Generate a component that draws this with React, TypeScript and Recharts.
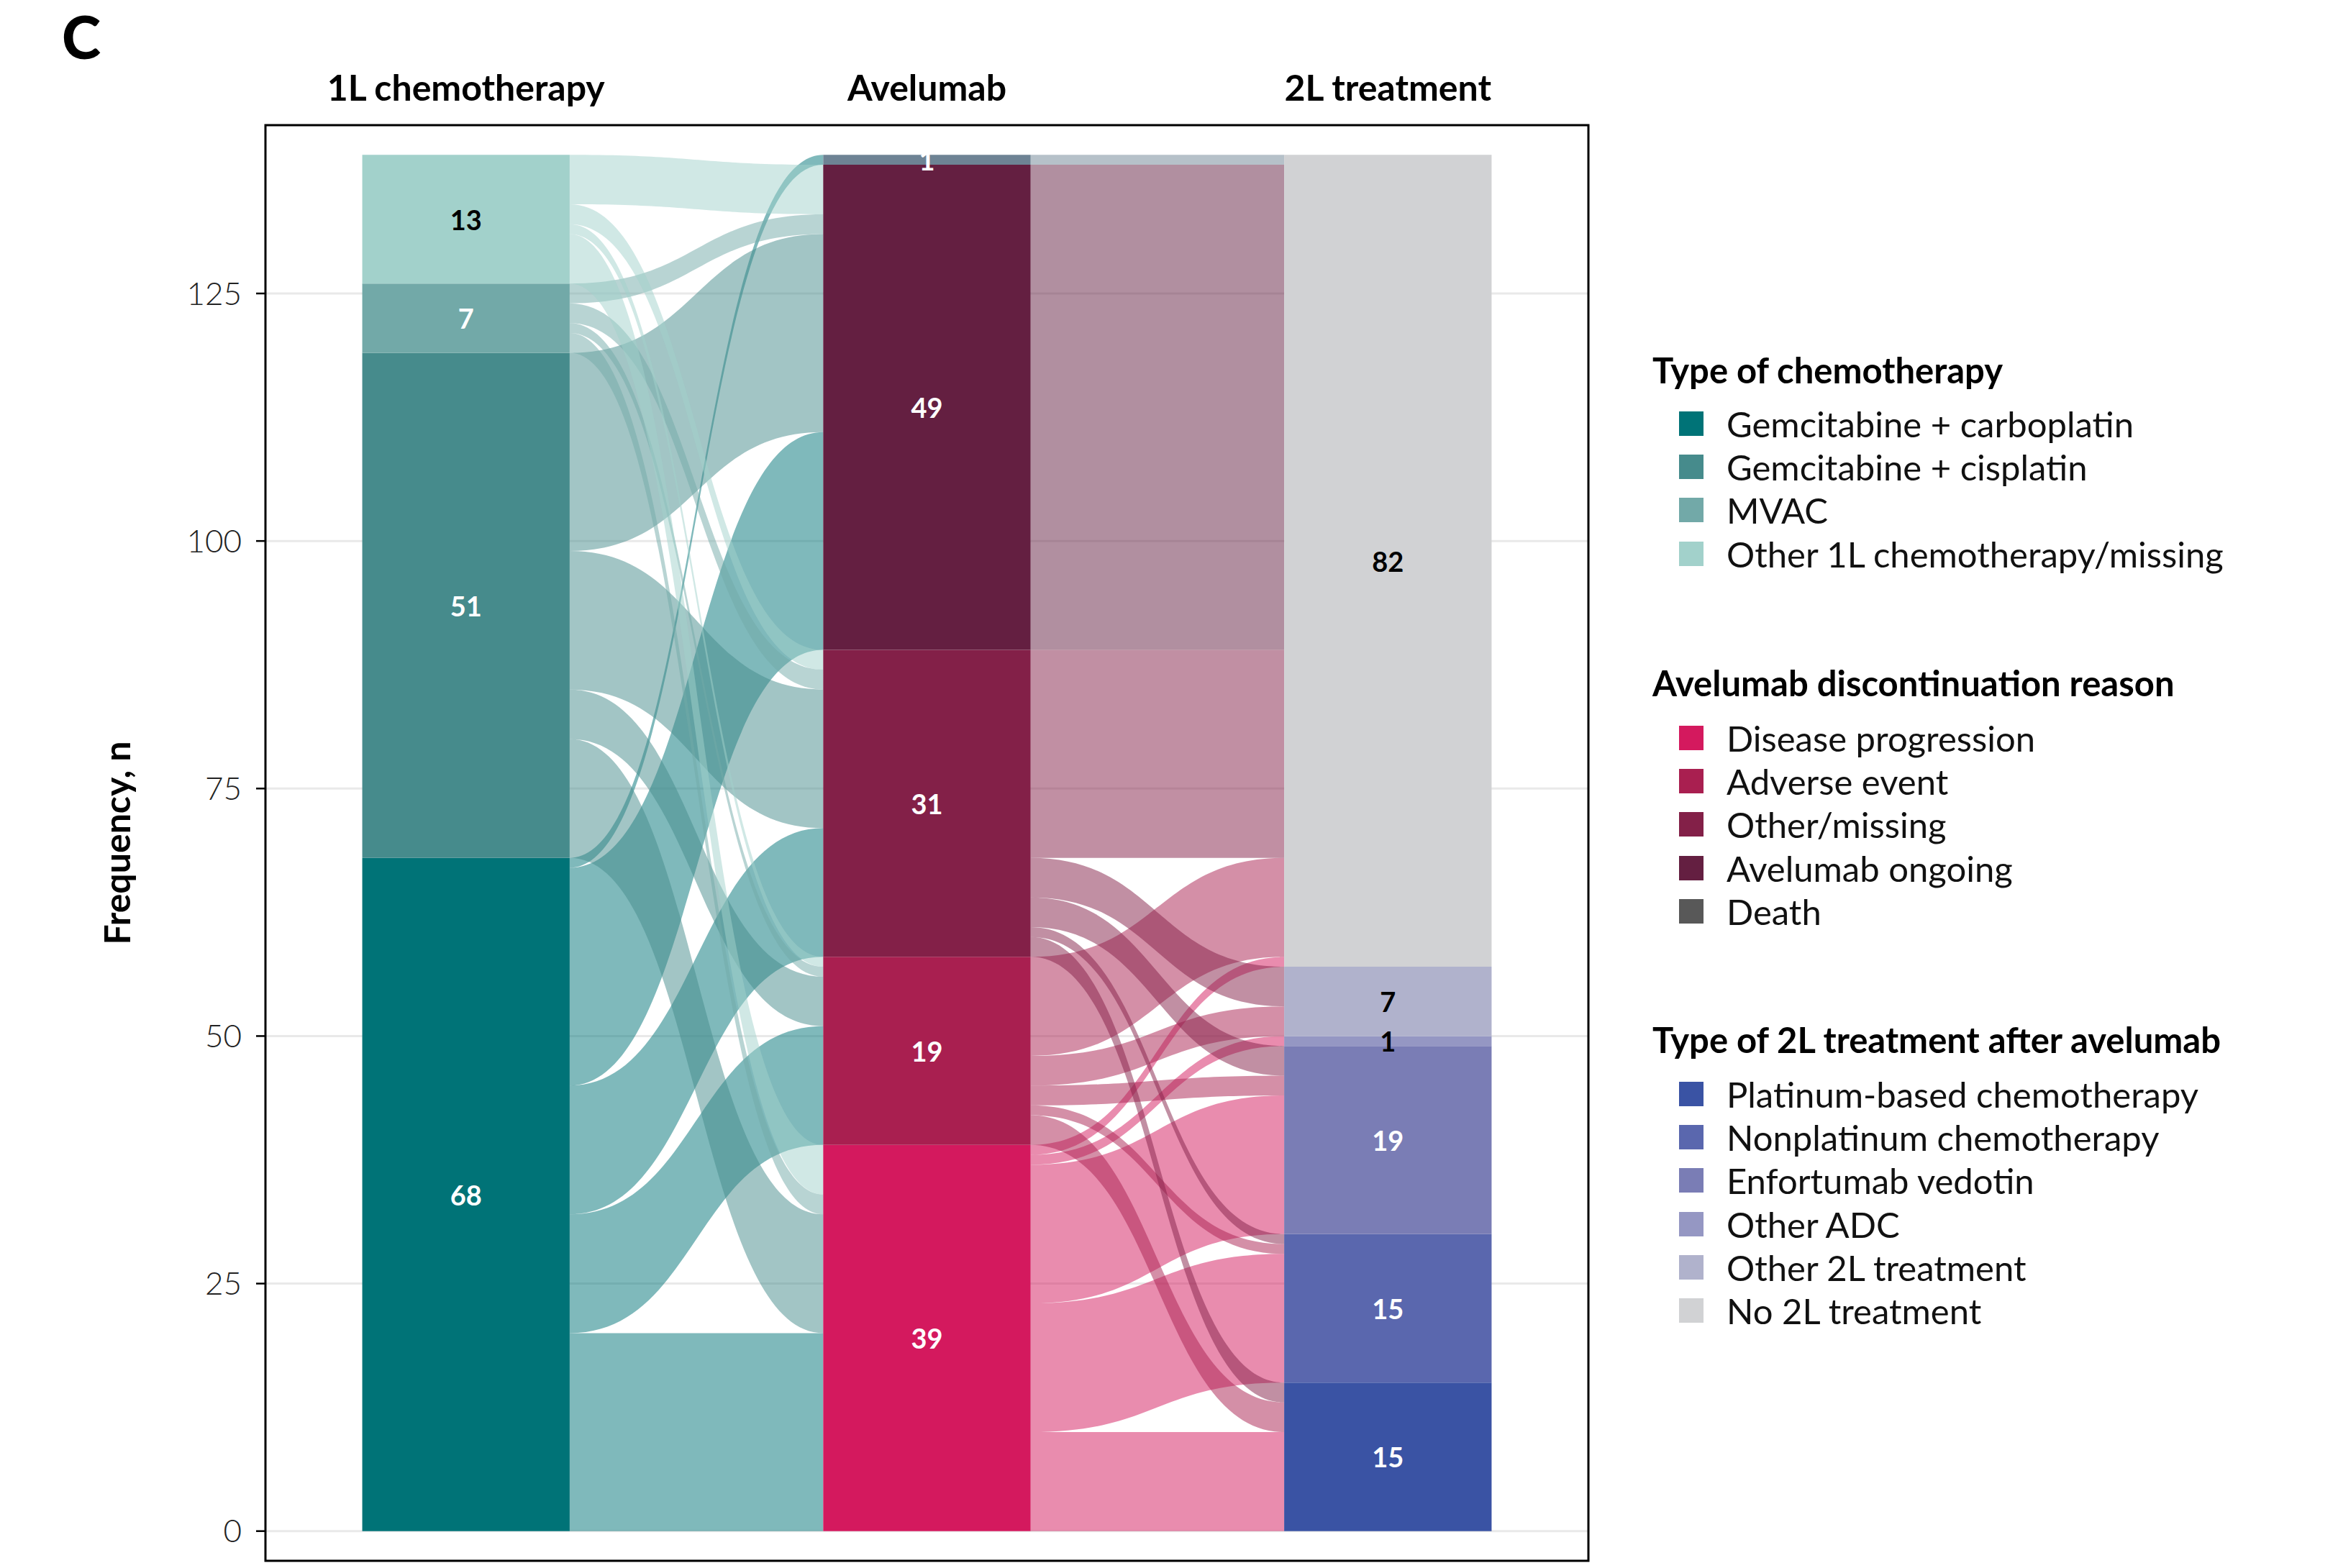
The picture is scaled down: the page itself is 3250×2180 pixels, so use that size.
import React from "react";
import { ComposedChart, Area, Scatter, XAxis, YAxis, CartesianGrid, ReferenceArea } from "recharts";

const columns = ["1L chemotherapy", "Avelumab", "2L treatment"];

const chemoTypes = ["Gemcitabine + carboplatin", "Gemcitabine + cisplatin", "MVAC", "Other 1L chemotherapy/missing"];
const chemoCounts = [68, 51, 7, 13];

const reasons = ["Disease progression", "Adverse event", "Other/missing", "Avelumab ongoing", "Death"];
const reasonCounts = [39, 19, 31, 49, 1];

const secondLine = [
  "Platinum-based chemotherapy",
  "Nonplatinum chemotherapy",
  "Enfortumab vedotin",
  "Other ADC",
  "Other 2L treatment",
  "No 2L treatment",
];
const secondCounts = [15, 15, 19, 1, 7, 82];

// rows: 1L chemotherapy, cols: avelumab discontinuation reason
const chemoToReason = [
  [20, 12, 13, 22, 1],
  [12, 5, 14, 20, 0],
  [2, 1, 2, 2, 0],
  [5, 1, 2, 5, 0],
];

// rows: avelumab discontinuation reason, cols: 2L treatment
const reasonToSecond = [
  [10, 13, 14, 1, 0, 1],
  [3, 1, 2, 0, 3, 10],
  [2, 1, 3, 0, 4, 21],
  [0, 0, 0, 0, 0, 49],
  [0, 0, 0, 0, 0, 1],
];

const yTicks = [0, 25, 50, 75, 100, 125];

const chemoColors = ["#007377", "#468b8c", "#72a9a8", "#a2d1cb"];
const reasonColors = ["#d4195e", "#a91f50", "#832048", "#641f41", "#6e8394"];
const reasonLegendColors = ["#d4195e", "#a91f50", "#832048", "#641f41", "#585858"];
const secondColors = ["#3a53a4", "#5a67ae", "#7a7db5", "#9597c3", "#b0b2cc", "#d1d2d4"];

const FONT = "Lato, 'Open Sans', sans-serif";
const HW = 0.225; // half stratum width in x units
const X_DOMAIN: [number, number] = [0.565, 3.435];
const Y_DOMAIN: [number, number] = [-3, 142];

function stack(counts: number[]) {
  let acc = 0;
  return counts.map((n) => {
    const lo = acc;
    acc += n;
    return [lo, acc];
  });
}

function flowBands(matrix: number[][], srcCounts: number[], dstCounts: number[]) {
  const srcOff = stack(srcCounts).map((r) => r[0]);
  const dstOff = stack(dstCounts).map((r) => r[0]);
  const from: Record<string, number[]> = {};
  const to: Record<string, number[]> = {};
  matrix.forEach((row, i) =>
    row.forEach((n, j) => {
      if (!n) return;
      from[i + "-" + j] = [srcOff[i], srcOff[i] + n];
      srcOff[i] += n;
    })
  );
  dstCounts.forEach((_, j) =>
    matrix.forEach((row, i) => {
      const n = row[j];
      if (!n) return;
      to[i + "-" + j] = [dstOff[j], dstOff[j] + n];
      dstOff[j] += n;
    })
  );
  return Object.keys(from).map((k) => ({ key: k, src: +k.split("-")[0], from: from[k], to: to[k] }));
}

const columnStrata = [
  { counts: chemoCounts, colors: chemoColors, darkText: [3] },
  { counts: reasonCounts, colors: reasonColors, darkText: [] as number[] },
  { counts: secondCounts, colors: secondColors, darkText: [3, 4, 5] },
];

const leftFlows = flowBands(chemoToReason, chemoCounts, reasonCounts);
const rightFlows = flowBands(reasonToSecond, reasonCounts, secondCounts);

const labelPoints = columnStrata.flatMap((col, c) =>
  stack(col.counts).map(([lo, hi], i) => ({
    x: c + 1,
    y: (lo + hi) / 2,
    n: col.counts[i],
    dark: col.darkText.includes(i),
  }))
);

const renderLabel = (p: any) => (
  <text
    x={p.cx}
    y={p.cy}
    textAnchor="middle"
    dominantBaseline="central"
    fontFamily={FONT}
    fontWeight={700}
    fontSize={38}
    fill={p.payload.dark ? "#000" : "#fff"}
  >
    {p.payload.n}
  </text>
);

const legendGroups = [
  { title: "Type of chemotherapy", names: chemoTypes, colors: chemoColors, titleY: 514, itemY: 589 },
  { title: "Avelumab discontinuation reason", names: reasons, colors: reasonLegendColors, titleY: 949, itemY: 1026 },
  { title: "Type of 2L treatment after avelumab", names: secondLine, colors: secondColors, titleY: 1445, itemY: 1521 },
];

function Legend() {
  return (
    <>
      {legendGroups.map((g) => (
        <React.Fragment key={g.title}>
          <div
            style={{
              position: "absolute",
              left: 2297,
              top: g.titleY - 30,
              fontFamily: FONT,
              fontWeight: 700,
              fontSize: 49,
              lineHeight: "60px",
              whiteSpace: "nowrap",
              color: "#000",
            }}
          >
            {g.title}
          </div>
          {g.names.map((name, i) => (
            <div
              key={name}
              style={{
                position: "absolute",
                left: 2334,
                top: g.itemY + i * 60.2 - 28,
                height: 56,
                display: "flex",
                alignItems: "center",
                whiteSpace: "nowrap",
              }}
            >
              <div style={{ width: 34, height: 34, background: g.colors[i], marginRight: 32 }} />
              <span style={{ fontFamily: FONT, fontSize: 49, color: "#111" }}>{name}</span>
            </div>
          ))}
        </React.Fragment>
      ))}
    </>
  );
}

export default function App() {
  return (
    <div style={{ position: "absolute", left: 0, top: 0, width: 3250, height: 2180, background: "#fff" }}>
      <svg style={{ position: "absolute", left: 0, top: 0 }} width={200} height={110}>
        <text x={86} y={82} fontFamily={FONT} fontWeight={900} fontSize={82} fill="#000">
          C
        </text>
      </svg>
      <ComposedChart width={3250} height={2180} margin={{ top: 114, right: 1042, bottom: 10, left: 129 }}>
        <CartesianGrid horizontal vertical={false} stroke="#e9e9e9" strokeWidth={3} />
        <XAxis
          type="number"
          dataKey="x"
          orientation="top"
          domain={X_DOMAIN}
          allowDataOverflow
          ticks={[1, 2, 3]}
          height={60}
          axisLine={false}
          tickLine={false}
          tick={(p: any) => (
            <text
              x={p.x}
              y={p.y}
              dy={-26}
              textAnchor="middle"
              fontFamily={FONT}
              fontWeight={700}
              fontSize={50}
              fill="#000"
            >
              {columns[p.payload.value - 1]}
            </text>
          )}
        />
        <YAxis
          type="number"
          dataKey="y"
          domain={Y_DOMAIN}
          allowDataOverflow
          ticks={yTicks}
          width={240}
          axisLine={false}
          tickSize={13}
          tickMargin={20}
          tickLine={{ stroke: "#000", strokeWidth: 2.5 }}
          tick={{ fill: "#222", fontSize: 44, fontFamily: FONT, fontWeight: 300 }}
          label={{
            content: (p: any) => (
              <text
                x={p.viewBox.x + 33}
                y={p.viewBox.y + p.viewBox.height / 2}
                transform={`rotate(-90 ${p.viewBox.x + 33} ${p.viewBox.y + p.viewBox.height / 2})`}
                textAnchor="middle"
                dominantBaseline="central"
                fontFamily={FONT}
                fontWeight={700}
                fontSize={50}
                fill="#000"
              >
                Frequency, n
              </text>
            ),
          }}
        />
        {leftFlows.map((f) => (
          <Area
            key={"l" + f.key}
            data={[
              { x: 1 + HW, r: f.from },
              { x: 2 - HW, r: f.to },
            ]}
            dataKey="r"
            type="bumpX"
            stroke="none"
            fill={chemoColors[f.src]}
            fillOpacity={0.5}
            dot={false}
            activeDot={false}
            isAnimationActive={false}
          />
        ))}
        {rightFlows.map((f) => (
          <Area
            key={"r" + f.key}
            data={[
              { x: 2 + HW, r: f.from },
              { x: 3 - HW, r: f.to },
            ]}
            dataKey="r"
            type="bumpX"
            stroke="none"
            fill={reasonColors[f.src]}
            fillOpacity={0.5}
            dot={false}
            activeDot={false}
            isAnimationActive={false}
          />
        ))}
        {columnStrata.flatMap((col, c) =>
          stack(col.counts).map((r, i) => (
            <Area
              key={"s" + c + "-" + i}
              data={[
                { x: c + 1 - HW, r },
                { x: c + 1 + HW, r },
              ]}
              dataKey="r"
              type="linear"
              stroke="none"
              fill={col.colors[i]}
              fillOpacity={1}
              dot={false}
              activeDot={false}
              isAnimationActive={false}
            />
          ))
        )}
        <Scatter data={labelPoints} dataKey="y" shape={renderLabel} isAnimationActive={false} />
        <ReferenceArea
          x1={X_DOMAIN[0]}
          x2={X_DOMAIN[1]}
          y1={Y_DOMAIN[0]}
          y2={Y_DOMAIN[1]}
          fill="none"
          stroke="#000"
          strokeWidth={3}
          ifOverflow="visible"
        />
      </ComposedChart>
      <Legend />
    </div>
  );
}
